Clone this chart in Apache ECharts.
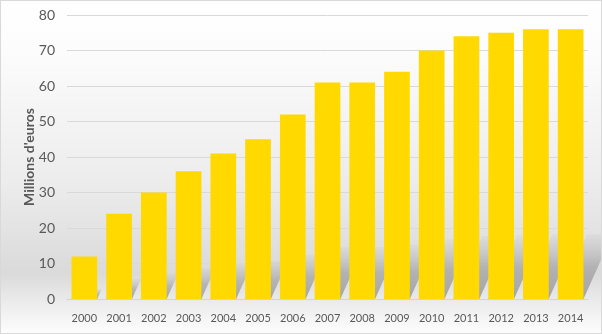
<!DOCTYPE html>
<html>
<head>
<meta charset="utf-8">
<script src="https://cdn.jsdelivr.net/npm/echarts@6/dist/echarts.min.js"></script>
<style>
  html, body { margin: 0; padding: 0; background: #fff; }
  #chart { width: 600px; height: 332px; border: 1px solid #d9d9d9; }
</style>
</head>
<body>
<div id="chart"></div>
<script>
// Annual amounts, in millions of euros
const years = ['2000','2001','2002','2003','2004','2005','2006','2007','2008','2009','2010','2011','2012','2013','2014'];
const amounts = [12, 24, 30, 36, 41, 45, 52, 61, 61, 64, 70, 74, 75, 76, 76];
const yTitle = "Millions d'euros";

const chart = echarts.init(document.getElementById('chart'));

// Floor reflection behind each bar: a slanted grey band rising to the right
function renderShadow(params, api) {
  const idx = api.value(0);
  const val = api.value(1);
  const base = api.coord([idx, 0]);
  const top = api.coord([idx, val]);
  const w = api.size([1, 0])[0] * 0.74;
  const h = (base[1] - top[1]) * 0.24;
  const dx = h * 0.45;
  const x0 = base[0] - w / 2;
  const x1 = base[0] + w / 2;
  return {
    type: 'polygon',
    shape: { points: [[x0, base[1]], [x1, base[1]], [x1 + dx, base[1] - h], [x0 + dx, base[1] - h]] },
    style: {
      fill: new echarts.graphic.LinearGradient(0, 1, 0, 0, [
        { offset: 0, color: 'rgba(120,120,120,0.6)' },
        { offset: 0.5, color: 'rgba(130,130,130,0.45)' },
        { offset: 1, color: 'rgba(160,160,160,0.08)' }
      ])
    }
  };
}

chart.setOption({
  animation: false,
  backgroundColor: new echarts.graphic.LinearGradient(0, 0, 0, 1, [
    { offset: 0, color: '#ffffff' },
    { offset: 0.15, color: '#fcfcfc' },
    { offset: 0.55, color: '#ececec' },
    { offset: 0.82, color: '#dadada' },
    { offset: 0.9, color: '#eaeaea' },
    { offset: 1, color: '#fdfdfd' }
  ]),
  grid: { left: 66, right: 13, top: 14, bottom: 34 },
  xAxis: {
    type: 'category',
    data: years,
    axisLine: { lineStyle: { color: '#d4d4d4' } },
    axisTick: { show: false },
    axisLabel: { color: '#595959', fontSize: 11, fontFamily: 'Lato, "Open Sans", sans-serif', margin: 14 }
  },
  yAxis: {
    type: 'value',
    min: 0, max: 80, interval: 10,
    name: yTitle,
    nameLocation: 'middle',
    nameGap: 31,
    nameMoveOverlap: false,
    nameTextStyle: { color: '#595959', fontSize: 14, fontWeight: 'bold', fontFamily: 'Lato, "Open Sans", sans-serif' },
    axisLine: { show: false },
    axisTick: { show: false },
    axisLabel: { color: '#595959', fontSize: 14, fontFamily: 'Lato, "Open Sans", sans-serif', margin: 12 },
    splitLine: { lineStyle: { color: '#d9d9d9' } }
  },
  series: [
    {
      type: 'custom',
      renderItem: renderShadow,
      data: amounts.map((v, i) => [i, v]),
      z: 1,
      silent: true
    },
    {
      type: 'bar',
      data: amounts,
      barWidth: '74%',
      itemStyle: { color: '#ffd900' },
      z: 3
    }
  ]
});
</script>
</body>
</html>
